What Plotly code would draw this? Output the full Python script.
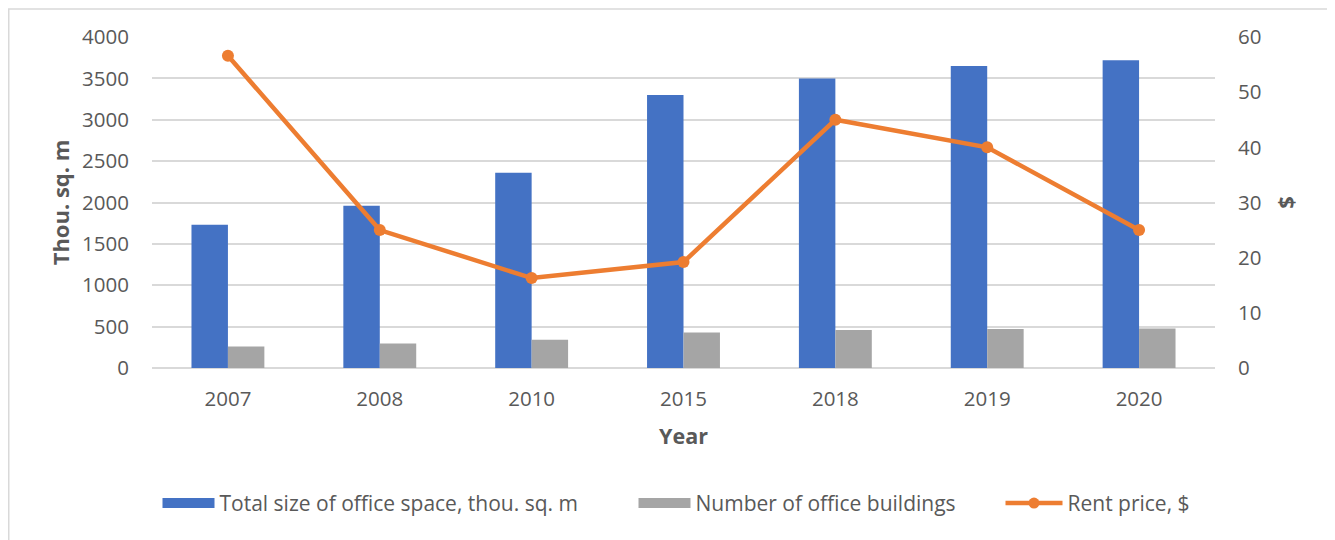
import plotly.graph_objects as go

years = ["2007", "2008", "2010", "2015", "2018", "2019", "2020"]
office_space = [1730, 1960, 2360, 3300, 3500, 3650, 3720]
office_buildings = [260, 295, 340, 430, 460, 470, 478]
rent_price = [56.6, 25.0, 16.3, 19.2, 45.0, 40.0, 25.0]

FONT = "Open Sans"
TXT = "#595959"
GRID = "#D9D9D9"
BLUE, GRAY, ORANGE = "#4472C4", "#A5A5A5", "#ED7D31"
NAMES = ["Total size of office space, thou. sq. m", "Number of office buildings", "Rent price, $"]

fig = go.Figure()
fig.add_trace(go.Bar(x=years, y=office_space, name=NAMES[0], legendgroup="a", showlegend=False,
                     marker=dict(color=BLUE, line=dict(width=0))))
fig.add_trace(go.Bar(x=years, y=office_buildings, name=NAMES[1], legendgroup="b", showlegend=False,
                     marker=dict(color=GRAY, line=dict(width=0))))
fig.add_trace(go.Scatter(x=years, y=rent_price, name=NAMES[2], yaxis="y2",
                         mode="lines+markers", legendgroup="c", showlegend=False,
                         line=dict(color=ORANGE, width=4.5),
                         marker=dict(color=ORANGE, size=12)))
# legend entries (swatches drawn as wide strokes, like the original)
fig.add_trace(go.Scatter(x=[None], y=[None], mode="lines", name=NAMES[0], legendgroup="a",
                         legend="legend", line=dict(color=BLUE, width=11)))
fig.add_trace(go.Scatter(x=[None], y=[None], mode="lines", name=NAMES[1], legendgroup="b",
                         legend="legend2", line=dict(color=GRAY, width=11)))
fig.add_trace(go.Scatter(x=[None], y=[None], mode="lines+markers", name=NAMES[2], legendgroup="c",
                         legend="legend3", line=dict(color=ORANGE, width=4.5),
                         marker=dict(color=ORANGE, size=11)))

# the page body has an 8px margin: work in page pixels, convert to figure pixels
OFF = 8
W, H = 1335 - OFF, 540 - OFF
L, R, T, B = 152 - OFF, 1215 - OFF, 36.7 - OFF, 368.3 - OFF
pw, ph = R - L, B - T

def px(xp):
    return (xp - L) / pw

def py(yp):
    return (B - yp) / ph

def leg(x_page, iw):
    return dict(orientation="h", x=px(x_page - 5.5 - OFF), xanchor="left",
                y=py(504 - OFF), yanchor="middle",
                font=dict(family=FONT, size=21, color=TXT), itemwidth=iw,
                bgcolor="rgba(0,0,0,0)")

fig.update_layout(
    width=W, height=H,
    margin=dict(l=L, r=W - R, t=T, b=H - B, autoexpand=False),
    paper_bgcolor="white", plot_bgcolor="white",
    font=dict(family=FONT, size=20.5, color=TXT),
    barmode="group", bargap=0.52, bargroupgap=0,
    showlegend=True,
    legend=leg(163, 52),
    legend2=leg(639, 52),
    legend3=leg(1006, 57),
    xaxis=dict(type="category", showgrid=False, showline=False, ticks="",
               ticklabelstandoff=16, tickfont=dict(size=20.5, color=TXT),
               title=dict(text="<b>Year</b>", font=dict(size=21.5, color=TXT), standoff=18)),
    yaxis=dict(range=[0, 4000], dtick=500, showgrid=True, gridcolor=GRID, gridwidth=1.5,
               zeroline=True, zerolinecolor=GRID, zerolinewidth=1.5, showline=False, ticks="",
               ticklabelstandoff=22, tickfont=dict(size=20.5, color=TXT),
               title=dict(text="<b>Thou. sq. m</b>", font=dict(size=22, color=TXT), standoff=6)),
    yaxis2=dict(range=[0, 60], dtick=10, overlaying="y", side="right", showgrid=False,
                zeroline=False, showline=False, ticks="", ticklabelstandoff=22,
                tickfont=dict(size=20.5, color=TXT),
                title=dict(text="<b>$</b>", font=dict(size=22, color=TXT), standoff=18)),
    shapes=[dict(type="rect", xref="paper", yref="paper",
                 x0=px(0.75), x1=px(W + 10), y0=py(H + 10), y1=py(0.75),
                 line=dict(color="#D9D9D9", width=1.5), layer="below")],
)

fig.write_html("out.html")
